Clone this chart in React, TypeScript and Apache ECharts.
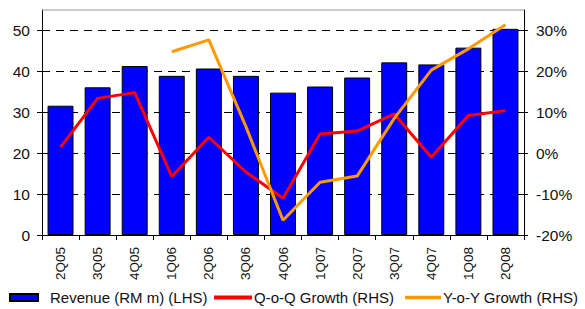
import React, { useEffect, useRef } from "react";
import * as echarts from "echarts";

const categories = ["2Q05", "3Q05", "4Q05", "1Q06", "2Q06", "3Q06", "4Q06", "1Q07", "2Q07", "3Q07", "4Q07", "1Q08", "2Q08"];
const revenue = [31.6, 36.1, 41.3, 38.9, 40.7, 38.9, 34.8, 36.3, 38.5, 42.2, 41.7, 45.8, 50.4];
const qoq = [1.5, 13.4, 14.8, -5.7, 3.9, -4.6, -11.0, 4.7, 5.4, 9.6, -1.0, 9.2, 10.4];
const yoy: (number | null)[] = [null, null, null, 24.8, 27.7, 6.5, -16.4, -7.1, -5.6, 8.5, 20.3, 25.5, 31.4];
const leftTicks = [0, 10, 20, 30, 40, 50];
const rightTicks = [-20, -10, 0, 10, 20, 30];

const FONT = "Liberation Sans";
const LINE_ICON = "path://M0,0 L40,0 L40,4 L0,4 Z";

export default function App() {
  const ref = useRef<HTMLDivElement>(null);
  useEffect(() => {
    if (!ref.current) return;
    const chart = echarts.init(ref.current, undefined, { renderer: "svg" });
    const legendText = { fontFamily: FONT, fontSize: 15, color: "#111" };
    chart.setOption({
      animation: false,
      textStyle: { fontFamily: FONT },
      grid: { left: 42, right: 61, top: 10, bottom: 74 },
      legend: [
        {
          left: 9,
          top: 290,
          padding: 0,
          itemWidth: 28,
          itemHeight: 7,
          textStyle: { ...legendText, padding: [0, 0, 0, 7] },
          data: [{ name: "Revenue (RM m) (LHS)", icon: "rect" }],
        },
        {
          left: 214,
          top: 290,
          padding: 0,
          itemWidth: 38,
          itemHeight: 8,
          symbolKeepAspect: true,
          textStyle: { ...legendText, padding: [0, 0, 0, -3] },
          data: [{ name: "Q-o-Q Growth (RHS)", icon: LINE_ICON, itemStyle: { borderWidth: 0 } }],
        },
        {
          left: 405,
          top: 290,
          padding: 0,
          itemWidth: 36,
          itemHeight: 8,
          symbolKeepAspect: true,
          textStyle: { ...legendText, padding: [0, 0, 0, -3] },
          data: [{ name: "Y-o-Y Growth (RHS)", icon: LINE_ICON, itemStyle: { borderWidth: 0 } }],
        },
      ],
      xAxis: {
        type: "category",
        data: categories,
        z: 0,
        axisLine: { lineStyle: { color: "#000", width: 1 } },
        axisTick: { show: true, alignWithLabel: false, length: 5, lineStyle: { color: "#000" } },
        axisLabel: { rotate: 90, margin: 12, fontSize: 13.5, color: "#111", fontFamily: FONT },
      },
      yAxis: [
        {
          type: "value",
          min: 0,
          max: 55,
          interval: 10,
          z: 0,
          axisLine: { show: true, lineStyle: { color: "#000" } },
          axisTick: { show: true, length: 5, customValues: leftTicks, lineStyle: { color: "#000" } },
          axisLabel: {
            fontSize: 15.5,
            color: "#111",
            margin: 12,
            fontFamily: FONT,
            customValues: leftTicks,
            formatter: (v: number) => String(v),
          },
          splitLine: { show: true, lineStyle: { color: "#000", type: [8, 6], width: 1 } },
        },
        {
          type: "value",
          min: -20,
          max: 35,
          interval: 10,
          z: 0,
          axisLine: { show: true, lineStyle: { color: "#000" } },
          axisTick: { show: true, length: 4, customValues: rightTicks, lineStyle: { color: "#000" } },
          axisLabel: {
            fontSize: 15.5,
            color: "#111",
            margin: 12,
            fontFamily: FONT,
            customValues: rightTicks,
            formatter: (v: number) => v + "%",
          },
          splitLine: { show: false },
        },
      ],
      series: [
        {
          name: "Revenue (RM m) (LHS)",
          type: "bar",
          data: revenue,
          barCategoryGap: "30%",
          itemStyle: { color: "#0000FF", borderColor: "#000", borderWidth: 1 },
          z: 10,
        },
        {
          name: "Q-o-Q Growth (RHS)",
          type: "line",
          yAxisIndex: 1,
          data: qoq,
          symbol: "none",
          lineStyle: { color: "#FF0000", width: 3 },
          itemStyle: { color: "#FF0000" },
          z: 11,
        },
        {
          name: "Y-o-Y Growth (RHS)",
          type: "line",
          yAxisIndex: 1,
          data: yoy,
          symbol: "none",
          lineStyle: { color: "#FF9900", width: 3 },
          itemStyle: { color: "#FF9900" },
          z: 12,
        },
      ],
      graphic: [
        {
          type: "line",
          z: 100,
          shape: { x1: 42, y1: 10, x2: 524, y2: 10 },
          style: { stroke: "#999", lineWidth: 1 },
        },
      ],
    });
    return () => chart.dispose();
  }, []);
  return <div ref={ref} style={{ width: 585, height: 309, position: "absolute", left: 0, top: 0 }} />;
}
